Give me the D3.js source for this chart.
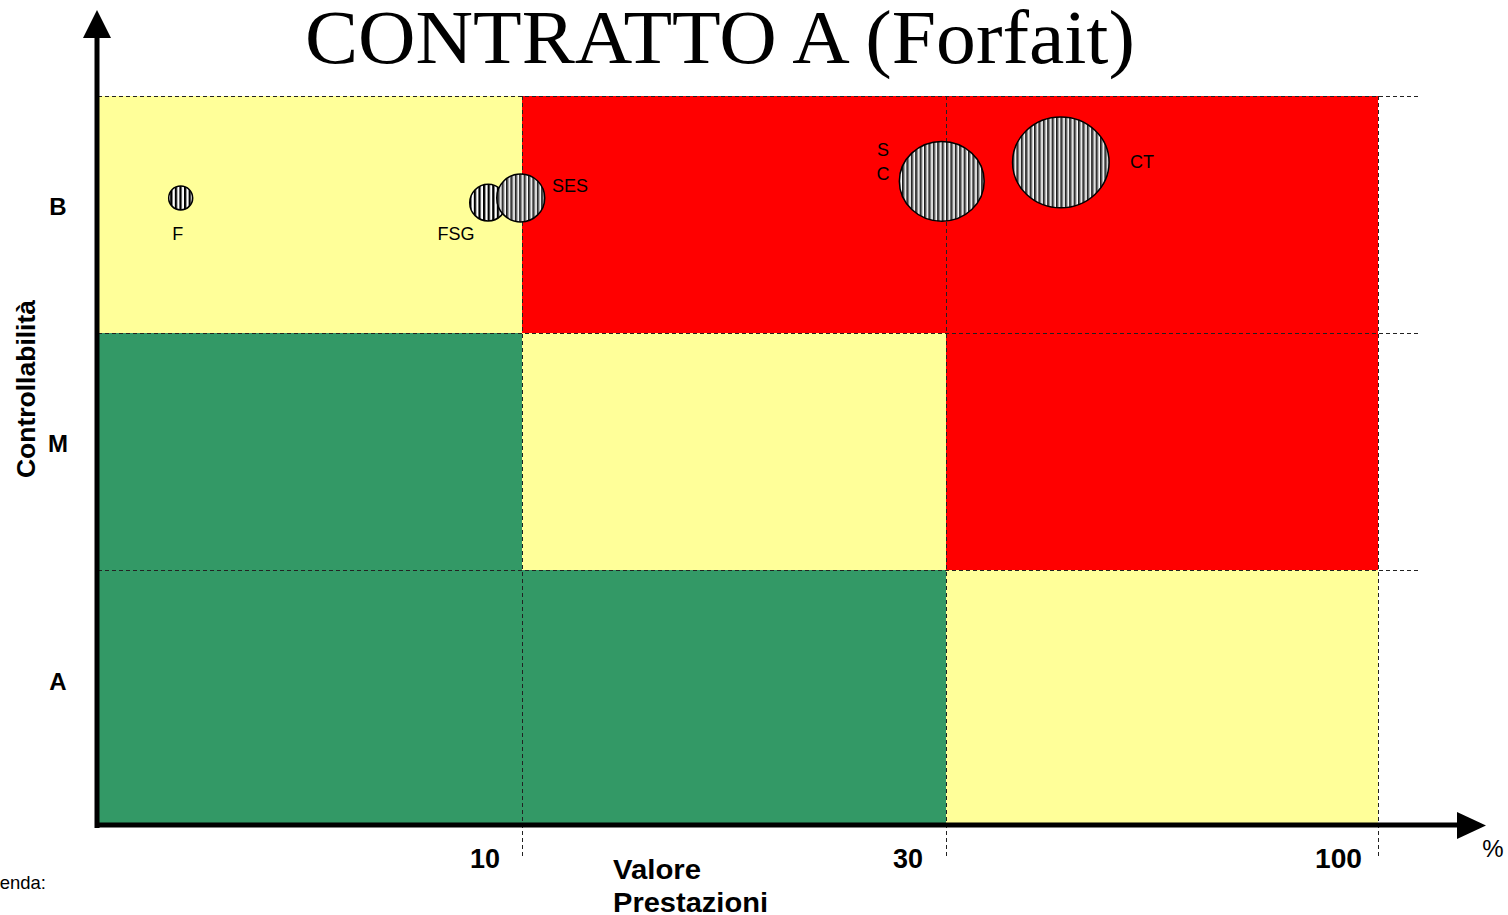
<!DOCTYPE html>
<html>
<head>
<meta charset="utf-8">
<script src="https://cdn.jsdelivr.net/npm/d3@7"></script>
<style>
  body { margin: 0; background: #fff; }
  svg { display: block; }
</style>
</head>
<body>
<script>
// data
var xBreaks = [0, 10, 30, 100];          // valore prestazioni (%)
var xTickLabels = ["10", "30", "100"];
var yLevels = ["A", "M", "B"];          // controllabilità
var cellColors = [                       // rows A, M, B ; cols 0-10, 10-30, 30-100
  ["green", "green", "yellow"],
  ["green", "yellow", "red"],
  ["yellow", "red", "red"]
];
var bubbleNames = ["F", "FSG", "SES", "SC", "CT"];
var bubbleX = [1.95, 9.2, 9.97, 29.8, 48.6];
var bubbleY = [2.57, 2.55, 2.57, 2.64, 2.72];
var bubbleSize = [6, 14, 24, 75, 97];
var bubbleFill = ["bw", "bw", "grey", "grey", "grey"];

var w = 1508, h = 915;

var palette = { green: "#339966", yellow: "#FFFF99", red: "#FF0000" };

// piecewise scales (columns/rows are not equal)
var x = d3.scaleLinear().domain(xBreaks).range([98, 522, 946, 1378]);
var y = d3.scaleLinear().domain([0, 1, 2, 3]).range([825, 570, 333, 96]);
var r = d3.scaleSqrt().domain([0, 100]).range([0, 49]);

var svg = d3.select("body").append("svg")
    .attr("width", w)
    .attr("height", h);

var defs = svg.append("defs");
var pBw = defs.append("pattern")
    .attr("id", "bw").attr("patternUnits", "userSpaceOnUse")
    .attr("width", 4.6).attr("height", 10);
pBw.append("rect").attr("width", 4.6).attr("height", 10).attr("fill", "#fff");
pBw.append("rect").attr("width", 2.3).attr("height", 10).attr("fill", "#000");

var pGr = defs.append("pattern")
    .attr("id", "grey").attr("patternUnits", "userSpaceOnUse")
    .attr("width", 4.4).attr("height", 10);
pGr.append("rect").attr("width", 4.4).attr("height", 10).attr("fill", "#cfcfcf");
pGr.append("rect").attr("width", 1.6).attr("height", 10).attr("fill", "#1a1a1a");
pGr.append("rect").attr("x", 1.6).attr("width", 0.9).attr("height", 10).attr("fill", "#7a7a7a");
pGr.append("rect").attr("x", 3.4).attr("width", 1).attr("height", 10).attr("fill", "#fff");

// cells
var cells = [];
cellColors.forEach(function(row, i) {
  row.forEach(function(c, j) { cells.push({ row: i, col: j, color: c }); });
});

svg.append("g").selectAll("rect")
  .data(cells)
  .enter().append("rect")
    .attr("x", function(d) { return x(xBreaks[d.col]); })
    .attr("y", function(d) { return y(d.row + 1); })
    .attr("width", function(d) { return x(xBreaks[d.col + 1]) - x(xBreaks[d.col]); })
    .attr("height", function(d) { return y(d.row) - y(d.row + 1); })
    .attr("fill", function(d) { return palette[d.color]; });

// dashed grid
var grid = svg.append("g")
    .attr("stroke", "#222")
    .attr("stroke-width", 1)
    .attr("stroke-dasharray", "4,3");

grid.selectAll("line.h")
  .data([1, 2, 3])
  .enter().append("line")
    .attr("x1", x(0)).attr("x2", 1420)
    .attr("y1", function(d) { return y(d) + 0.5; })
    .attr("y2", function(d) { return y(d) + 0.5; });

grid.selectAll("line.v")
  .data(xBreaks.slice(1))
  .enter().append("line")
    .attr("x1", function(d) { return x(d) + 0.5; })
    .attr("x2", function(d) { return x(d) + 0.5; })
    .attr("y1", y(3)).attr("y2", 856);

// axes with arrows
svg.append("line")
    .attr("x1", 97).attr("x2", 97)
    .attr("y1", 828).attr("y2", 36)
    .attr("stroke", "#000").attr("stroke-width", 5);
svg.append("path")
    .attr("d", "M83,38L111,38L97,10Z")
    .attr("fill", "#000");

svg.append("line")
    .attr("x1", 95).attr("x2", 1460)
    .attr("y1", 825).attr("y2", 825)
    .attr("stroke", "#000").attr("stroke-width", 5);
svg.append("path")
    .attr("d", "M1457,812L1457,839L1486,825.5Z")
    .attr("fill", "#000");

// bubbles
var bubbles = bubbleNames.map(function(n, i) {
  return { name: n, x: bubbleX[i], y: bubbleY[i], s: bubbleSize[i], fill: bubbleFill[i] };
});

svg.append("g").selectAll("ellipse")
  .data(bubbles)
  .enter().append("ellipse")
    .attr("cx", function(d) { return x(d.x); })
    .attr("cy", function(d) { return y(d.y); })
    .attr("rx", function(d) { return r(d.s); })
    .attr("ry", function(d) { return r(d.s) * (d.s > 50 ? 0.94 : 1); })
    .attr("fill", function(d) { return "url(#" + d.fill + ")"; })
    .attr("stroke", "#000")
    .attr("stroke-width", 1.5);

// bubble labels
var lab = svg.append("g")
    .attr("font-family", "Liberation Sans, Arial, sans-serif")
    .attr("font-size", 18)
    .attr("fill", "#000");
lab.append("text").attr("x", x(bubbleX[0]) - 3).attr("y", 240).attr("text-anchor", "middle").text("F");
lab.append("text").attr("x", 456).attr("y", 240).attr("text-anchor", "middle").text("FSG");
lab.append("text").attr("x", 570).attr("y", 192).attr("text-anchor", "middle").text("SES");
lab.append("text").attr("x", 883).attr("y", 156).attr("text-anchor", "middle").text("S");
lab.append("text").attr("x", 883).attr("y", 180).attr("text-anchor", "middle").text("C");
lab.append("text").attr("x", 1142).attr("y", 168).attr("text-anchor", "middle").text("CT");

// title
svg.append("text")
    .attr("x", 305).attr("y", 63)
    .attr("font-family", "Liberation Serif, Times New Roman, serif")
    .attr("font-size", 76)
    .attr("textLength", 830)
    .attr("lengthAdjust", "spacingAndGlyphs")
    .text("CONTRATTO A (Forfait)");

// y level labels
svg.append("g").selectAll("text")
  .data(yLevels)
  .enter().append("text")
    .attr("x", 58)
    .attr("y", function(d, i) { return y(i + 0.5) - (i === 0 ? 8 : 0); })
    .attr("text-anchor", "middle")
    .attr("font-family", "Liberation Sans, Arial, sans-serif")
    .attr("font-weight", "bold")
    .attr("font-size", 24)
    .text(function(d) { return d; });

svg.append("text")
    .attr("transform", "translate(35,389) rotate(-90)")
    .attr("text-anchor", "middle")
    .attr("font-family", "Liberation Sans, Arial, sans-serif")
    .attr("font-weight", "bold")
    .attr("font-size", 25)
    .attr("textLength", 178)
    .attr("lengthAdjust", "spacingAndGlyphs")
    .text("Controllabilità");

// x tick labels (narrow bold)
var tickWidth = { "10": 30, "30": 30, "100": 47 };
var tickGap = { "10": 22, "30": 23, "100": 16 };
svg.append("g").selectAll("text")
  .data(xTickLabels)
  .enter().append("text")
    .attr("x", function(d) { return x(+d) - tickGap[d] - tickWidth[d]; })
    .attr("y", 868)
    .attr("font-family", "Liberation Sans, Arial, sans-serif")
    .attr("font-weight", "bold")
    .attr("font-size", 28)
    .attr("textLength", function(d) { return tickWidth[d]; })
    .attr("lengthAdjust", "spacingAndGlyphs")
    .text(function(d) { return d; });

var xTitle = [["Valore", 879, 88], ["Prestazioni", 912, 155]];
svg.append("g").selectAll("text")
  .data(xTitle)
  .enter().append("text")
    .attr("x", 613)
    .attr("y", function(d) { return d[1]; })
    .attr("font-family", "Liberation Sans, Arial, sans-serif")
    .attr("font-weight", "bold")
    .attr("font-size", 28)
    .attr("textLength", function(d) { return d[2]; })
    .attr("lengthAdjust", "spacingAndGlyphs")
    .text(function(d) { return d[0]; });

svg.append("text")
    .attr("x", 1493).attr("y", 857)
    .attr("text-anchor", "middle")
    .attr("font-family", "Liberation Sans, Arial, sans-serif")
    .attr("font-size", 24)
    .text("%");

svg.append("text")
    .attr("x", 46).attr("y", 889)
    .attr("text-anchor", "end")
    .attr("font-family", "Liberation Sans, Arial, sans-serif")
    .attr("font-size", 19)
    .attr("textLength", 77)
    .attr("lengthAdjust", "spacingAndGlyphs")
    .text("Legenda:");
</script>
</body>
</html>
